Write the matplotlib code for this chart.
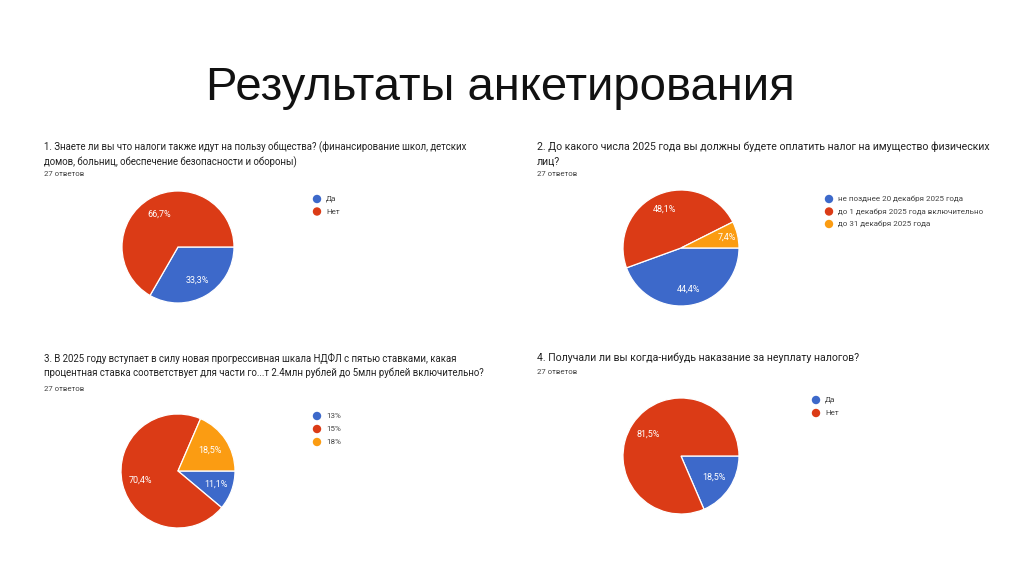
import matplotlib
matplotlib.use("Agg")
import matplotlib.pyplot as plt

plt.rcParams['font.family'] = ['Roboto', 'DejaVu Sans']

W, H = 1024, 574

title = "Результаты анкетирования"

questions = [
    "1. Знаете ли вы что налоги также идут на пользу общества? (финансирование школ, детских\nдомов, больниц, обеспечение безопасности и обороны)",
    "2. До какого числа 2025 года вы должны будете оплатить налог на имущество физических\nлиц?",
    "3. В 2025 году вступает в силу новая прогрессивная шкала НДФЛ с пятью ставками, какая\nпроцентная ставка соответствует для части го...т 2.4млн рублей до 5млн рублей включительно?",
    "4. Получали ли вы когда-нибудь наказание за неуплату налогов?",
]
answers_note = "27 ответов"

labels1 = ["Да", "Нет"]
counts1 = [9, 18]
labels2 = ["не позднее 20 декабря 2025 года", "до 1 декабря 2025 года включительно", "до 31 декабря 2025 года"]
counts2 = [12, 13, 2]
labels3 = ["13%", "15%", "18%"]
counts3 = [3, 19, 5]
labels4 = ["Да", "Нет"]
counts4 = [5, 22]

colors = ["#3d69ca", "#db3b16", "#fb9c12"]

fig = plt.figure(figsize=(W / 100, H / 100), dpi=100)
fig.patch.set_facecolor("white")

def fx(x):
    return x / W

def fy(y):
    return 1 - y / H

fig.text(fx(500), fy(88), title, fontsize=34, ha="center", va="center", color="#111111",
         family=['Liberation Sans', 'DejaVu Sans'])

panels = [
    dict(q=questions[0], qx=44, qy=147, fs=6.95, ny=174, cx=178, cy=247, r=56, lx=317, ly=199, step=12.5, labels=labels1, counts=counts1, pd=[0.68, 0.68]),
    dict(q=questions[1], qx=537, qy=147, fs=7.6, ny=174, cx=681, cy=248, r=58, lx=829, ly=199, step=12.5, labels=labels2, counts=counts2, pd=[0.72, 0.72, 0.82]),
    dict(q=questions[2], qx=44, qy=358, fs=6.95, ny=389, cx=178, cy=471, r=57, lx=317, ly=416, step=13, labels=labels3, counts=counts3, pd=[0.7, 0.68, 0.68]),
    dict(q=questions[3], qx=537, qy=358, fs=7.6, ny=372, cx=681, cy=456, r=58, lx=816, ly=400, step=13, labels=labels4, counts=counts4, pd=[0.68, 0.68]),
]

for p in panels:
    for k, line in enumerate(p["q"].split("\n")):
        fig.text(fx(p["qx"]), fy(p["qy"] + k * 15), line, fontsize=p["fs"], ha="left", va="center",
                 color="#222222")
    fig.text(fx(p["qx"]), fy(p["ny"]), answers_note, fontsize=5.6, ha="left", va="center",
             color="#444444")
    r = p["r"]
    ax = fig.add_axes([fx(p["cx"] - r), fy(p["cy"] + r), 2 * r / W, 2 * r / H])
    n = len(p["counts"])
    wedges, texts, autotexts = ax.pie(
        p["counts"], colors=colors[:n], startangle=0, counterclock=False,
        autopct=lambda v: ("%.1f%%" % v).replace(".", ","), pctdistance=0.68,
        wedgeprops=dict(edgecolor="white", linewidth=0.9),
        textprops=dict(color="white", fontsize=6.5))
    for t, d in zip(autotexts, p["pd"]):
        x, y = t.get_position()
        t.set_position((x * d / 0.68, y * d / 0.68))
    ax.set_xlim(-1, 1)
    ax.set_ylim(-1, 1)
    ax.set_aspect("auto")
    for i, lab in enumerate(p["labels"]):
        y = p["ly"] + i * p["step"]
        fig.patches.append(matplotlib.patches.Ellipse((fx(p["lx"]), fy(y)), 7 / W, 7 / H,
                                                       transform=fig.transFigure,
                                                       color=colors[i], figure=fig))
        fig.text(fx(p["lx"] + 9), fy(y), lab, fontsize=5.8, ha="left", va="center", color="#444444")

fig.savefig("out.png", dpi=100, facecolor="white")
